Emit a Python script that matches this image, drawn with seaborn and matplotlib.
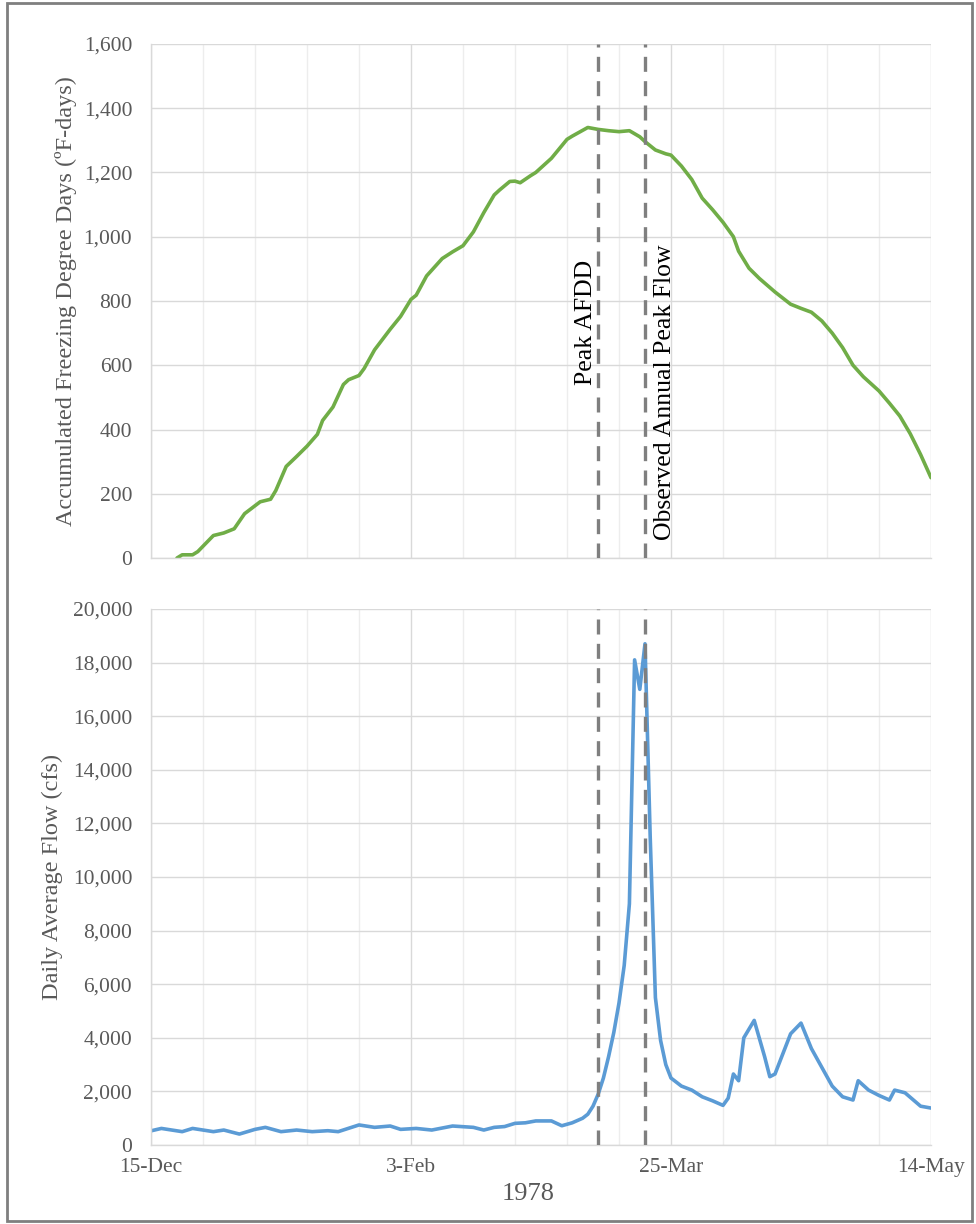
import matplotlib
matplotlib.use("Agg")
import matplotlib.pyplot as plt
from matplotlib.patches import Rectangle
from matplotlib.ticker import FuncFormatter
import pandas as pd
import seaborn as sns

start = pd.Timestamp("1977-12-15")

# accumulated freezing degree days (day number counted from 15-Dec)
afdd_day = [5, 6, 8, 9, 12, 14, 16, 18, 21, 23, 24, 26, 28, 30, 32, 33, 35, 37, 38, 40,
            41, 43, 46, 48, 50, 51, 53, 56, 58, 60, 62, 64, 66, 67, 69, 70, 71, 73, 74, 77,
            80, 81, 84, 86, 88, 90, 92, 94, 95, 97, 99, 100, 102, 104, 106, 108, 110, 112, 113, 115,
            117, 120, 123, 125, 127, 129, 131, 133, 135, 137, 140, 142, 144, 146, 148, 150]
afdd_val = [0, 10, 10, 20, 70, 78, 91, 138, 175, 183, 210, 285, 316, 348, 385, 428, 470, 540, 555, 568,
            590, 648, 712, 752, 805, 818, 878, 932, 953, 972, 1015, 1075, 1130, 1145, 1172, 1173, 1168, 1190, 1200, 1244,
            1303, 1313, 1340, 1334, 1330, 1327, 1330, 1311, 1296, 1270, 1258, 1254, 1220, 1178, 1120, 1084, 1045, 1000, 955, 902,
            870, 828, 790, 777, 765, 738, 700, 655, 600, 564, 520, 482, 442, 387, 322, 250]

# daily average flow, cfs
flow_day = [0, 2, 6, 8, 12, 14, 17, 20, 22, 25, 28, 31, 34, 36, 40, 43, 46, 48, 51, 54,
            58, 62, 64, 66, 68, 70, 72, 74, 77, 79, 81, 83, 84, 85, 86, 87, 88, 89, 90, 91,
            92, 93, 94, 95, 96, 97, 98, 99, 100, 102, 104, 106, 108, 110, 111, 112, 113, 114, 116, 118,
            119, 120, 123, 125, 127, 129, 131, 133, 135, 136, 138, 140, 142, 143, 145, 148, 150]
flow_val = [530, 620, 500, 620, 500, 560, 410, 585, 660, 500, 560, 500, 535, 500, 750, 660, 710, 585, 620, 560,
            710, 660, 560, 660, 690, 810, 830, 900, 900, 720, 830, 1000, 1150, 1450, 1900, 2500, 3300, 4200, 5300, 6700,
            9000, 18100, 17000, 18700, 11500, 5500, 3900, 3000, 2500, 2200, 2050, 1800, 1650, 1480, 1750, 2650, 2400, 4000, 4650, 3300,
            2550, 2650, 4150, 4550, 3600, 2900, 2200, 1800, 1680, 2400, 2050, 1850, 1680, 2050, 1950, 1450, 1380]

tick_days = [0, 50, 100, 150]
tick_labels = ["15-Dec", "3-Feb", "25-Mar", "14-May"]
peak_afdd_day = 86
peak_flow_day = 95

afdd = pd.DataFrame({"Date": start + pd.to_timedelta(afdd_day, unit="D"), "AFDD": afdd_val})
flow = pd.DataFrame({"Date": start + pd.to_timedelta(flow_day, unit="D"), "Flow": flow_val})

sns.set_style("whitegrid")
plt.rcParams["font.family"] = ["Liberation Serif", "DejaVu Serif"]

fig = plt.figure(figsize=(9.76, 12.24), dpi=100)
ax1 = fig.add_axes([0.1547, 0.5441, 0.7992, 0.4200])
ax2 = fig.add_axes([0.1547, 0.0645, 0.7992, 0.4380])

sns.lineplot(data=afdd, x="Date", y="AFDD", ax=ax1, color="#70AD47", linewidth=2.6)
sns.lineplot(data=flow, x="Date", y="Flow", ax=ax2, color="#5B9BD5", linewidth=2.6)

grey = "#595959"
ticks = start + pd.to_timedelta(tick_days, unit="D")
minor = pd.date_range(start, start + pd.Timedelta(days=150), freq="10D")

for ax in (ax1, ax2):
    ax.set_xlim(start, start + pd.Timedelta(days=150))
    ax.set_xticks(ticks)
    ax.set_xticks(minor, minor=True)
    ax.grid(which="major", color="#d9d9d9", linewidth=1)
    ax.grid(which="minor", axis="x", color="#ededed", linewidth=1)
    ax.set_axisbelow(True)
    for s in ("top", "right"):
        ax.spines[s].set_visible(False)
    for s in ("left", "bottom"):
        ax.spines[s].set_color("#d9d9d9")
        ax.spines[s].set_linewidth(1)
    ax.tick_params(axis="both", which="both", length=0, labelsize=15.5, labelcolor=grey)
    ax.tick_params(axis="y", pad=13.5)
    ax.tick_params(axis="x", pad=9)
    ax.yaxis.set_major_formatter(FuncFormatter(lambda v, p: f"{v:,.0f}"))
    ax.set_xlabel("")
    for d in (peak_afdd_day, peak_flow_day):
        ax.axvline(start + pd.Timedelta(days=d), color="#7f7f7f", linewidth=2.4,
                   linestyle=(0, (4.5, 2.8)), zorder=3)

ax1.set_ylim(0, 1600)
ax1.set_yticks(range(0, 1601, 200))
ax1.set_xticklabels([])
ax2.set_ylim(0, 20000)
ax2.set_yticks(range(0, 20001, 2000))
ax2.set_xticklabels(tick_labels)

ax1.set_ylabel("Accumulated Freezing Degree Days (ºF-days)", fontsize=17.5, color=grey)
ax1.yaxis.set_label_coords(-0.0945, 0.5)
ax2.set_ylabel("Daily Average Flow (cfs)", fontsize=17.5, color=grey)
ax2.yaxis.set_label_coords(-0.1125, 0.5)

ax1.annotate("Peak AFDD", xy=(start + pd.Timedelta(days=peak_afdd_day), 539),
             xytext=(-1, 0), textcoords="offset points", rotation=90,
             ha="right", va="bottom", fontsize=18.5, color="black")
ax1.annotate("Observed Annual Peak Flow", xy=(start + pd.Timedelta(days=peak_flow_day), 56),
             xytext=(6.5, 0), textcoords="offset points", rotation=90,
             ha="left", va="bottom", fontsize=18.5, color="black")

fig.text(528 / 976, 1 - 1194 / 1224, "1978", ha="center", va="center", fontsize=19, color=grey)

fig.patches.append(Rectangle((0.0072, 0.0025), 0.9885, 0.9950, transform=fig.transFigure,
                             fill=False, edgecolor="#7f7f7f", linewidth=2))

fig.savefig("out.png", dpi=100)
